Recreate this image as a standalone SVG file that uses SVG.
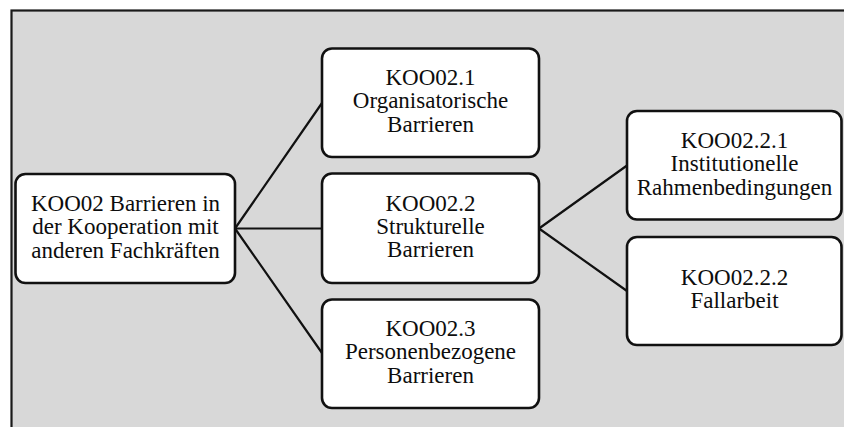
<svg xmlns="http://www.w3.org/2000/svg" width="844" height="427" viewBox="0 0 844 427">
  <style>
    .frame { fill: #d8d8d8; stroke: #1a1a1a; stroke-width: 2.2; }
    .box { fill: #ffffff; stroke: #111111; stroke-width: 2.6; }
    .edge { fill: none; stroke: #111111; stroke-width: 2.2; stroke-linecap: round; }
    .label { font-family: 'Liberation Serif', 'Times New Roman', Times, serif; font-size: 23px; fill: #0d0d0d; text-anchor: middle; }
  </style>

  <rect width="844" height="427" fill="#ffffff"/>
  <!-- panel background, open to the right and bottom -->
  <rect class="frame" x="11.5" y="10.5" width="840" height="425"/>

  <g id="connectors">
    <line class="edge" x1="235" y1="228.5" x2="322" y2="103"/>
    <line class="edge" x1="235" y1="228.5" x2="322" y2="228.5"/>
    <line class="edge" x1="235" y1="228.5" x2="322" y2="353"/>
    <line class="edge" x1="539" y1="228.5" x2="627" y2="165.5"/>
    <line class="edge" x1="539" y1="228.5" x2="627" y2="291"/>
  </g>

  <g id="koo02">
    <rect class="box" x="15.5" y="174" width="219.5" height="109" rx="10"/>
    <text class="label"><tspan x="125.5" y="211">KOO02 Barrieren in</tspan><tspan x="125.5" y="234.4">der Kooperation mit</tspan><tspan x="125.5" y="257.8">anderen Fachkräften</tspan></text>
  </g>

  <g id="koo02-1">
    <rect class="box" x="322" y="48.5" width="217" height="108.5" rx="10"/>
    <text class="label"><tspan x="430.5" y="85">KOO02.1</tspan><tspan x="430.5" y="108.4">Organisatorische</tspan><tspan x="430.5" y="131.8">Barrieren</tspan></text>
  </g>

  <g id="koo02-2">
    <rect class="box" x="322" y="173.5" width="217" height="109.5" rx="10"/>
    <text class="label"><tspan x="430.5" y="210.6">KOO02.2</tspan><tspan x="430.5" y="234">Strukturelle</tspan><tspan x="430.5" y="257.4">Barrieren</tspan></text>
  </g>

  <g id="koo02-3">
    <rect class="box" x="322" y="299.5" width="217" height="108.5" rx="10"/>
    <text class="label"><tspan x="430.5" y="335.8">KOO02.3</tspan><tspan x="430.5" y="359.2">Personenbezogene</tspan><tspan x="430.5" y="382.6">Barrieren</tspan></text>
  </g>

  <g id="koo02-2-1">
    <rect class="box" x="627" y="111" width="214.5" height="108.5" rx="10"/>
    <text class="label"><tspan x="734.5" y="147.5">KOO02.2.1</tspan><tspan x="734.5" y="171.2">Institutionelle</tspan><tspan x="734.5" y="194.5">Rahmenbedingungen</tspan></text>
  </g>

  <g id="koo02-2-2">
    <rect class="box" x="627" y="237" width="214.5" height="108" rx="10"/>
    <text class="label"><tspan x="734.5" y="285">KOO02.2.2</tspan><tspan x="734.5" y="308.4">Fallarbeit</tspan></text>
  </g>
</svg>
